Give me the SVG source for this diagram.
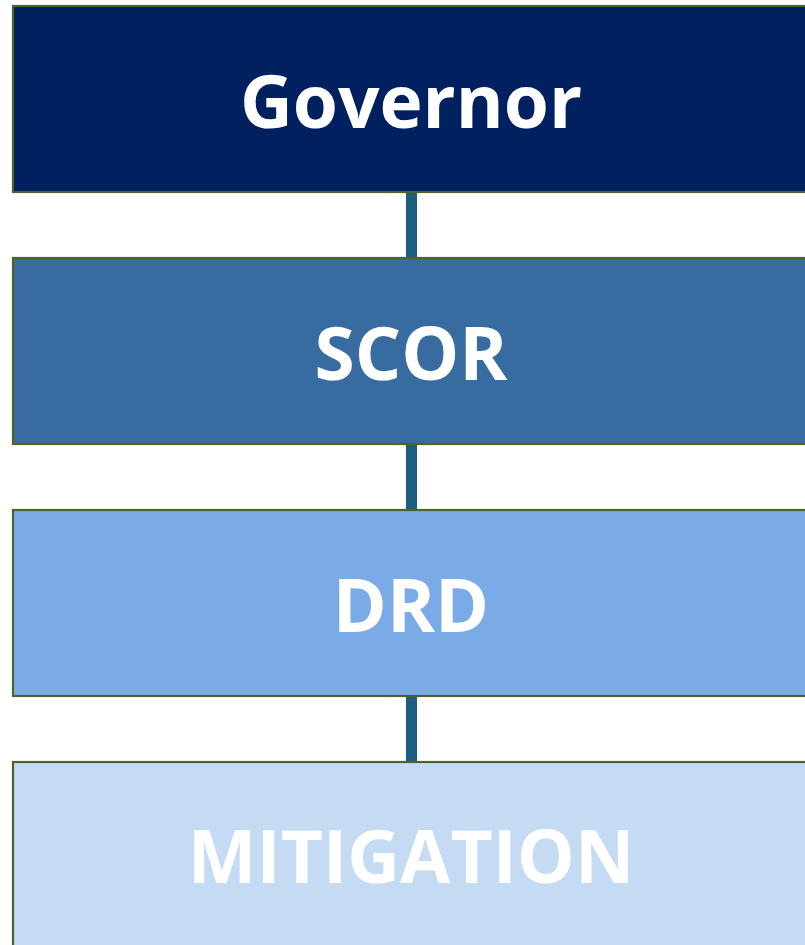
<svg xmlns="http://www.w3.org/2000/svg" width="805" height="945" viewBox="0 0 805 945">
<style>
.box{stroke:#4f6228;stroke-width:2.2}
.lbl{font-family:"Open Sans","Noto Sans","Liberation Sans",sans-serif;font-weight:700;font-size:73px;fill:#ffffff;text-anchor:middle}
.conn{stroke:#1b5e7d;stroke-width:11}
</style>
<rect width="805" height="945" fill="#ffffff"/>
<g id="connectors">
<line class="conn" x1="411.5" y1="192" x2="411.5" y2="258"/>
<line class="conn" x1="411.5" y1="444" x2="411.5" y2="510"/>
<line class="conn" x1="411.5" y1="696" x2="411.5" y2="762"/>
</g>
<g id="governor">
<rect class="box" x="13" y="6" width="798" height="186" fill="#002060"/>
<text class="lbl" x="411" y="128">Governor</text>
</g>
<g id="scor">
<rect class="box" x="13" y="258" width="798" height="186" fill="#386ca0"/>
<text class="lbl" x="411" y="380">SCOR</text>
</g>
<g id="drd">
<rect class="box" x="13" y="510" width="798" height="186" fill="#7aabe6"/>
<text class="lbl" x="411" y="632">DRD</text>
</g>
<g id="mitigation">
<rect class="box" x="13" y="762" width="798" height="200" fill="#c5dbf4"/>
<text class="lbl" x="411" y="883">MITIGATION</text>
</g>
</svg>
